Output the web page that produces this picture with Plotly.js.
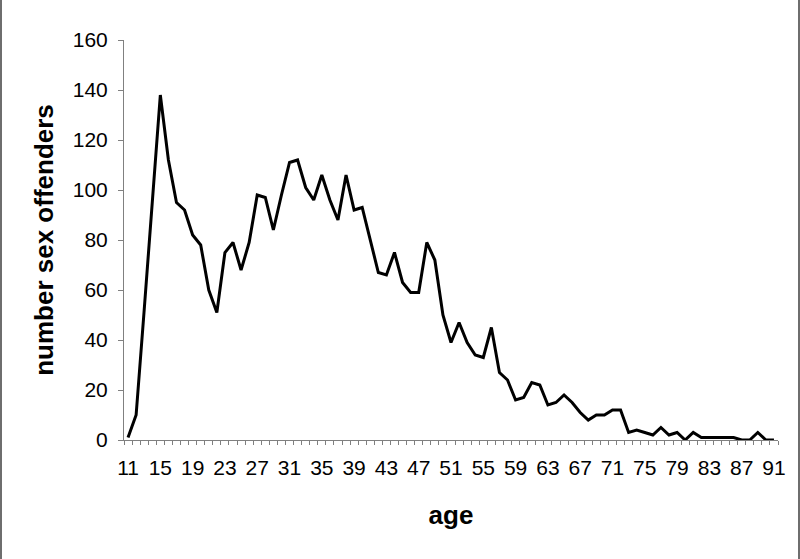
<!DOCTYPE html>
<html>
<head>
<meta charset="utf-8">
<script src="https://cdn.plot.ly/plotly-3.0.1.min.js"></script>
<style>
  html, body { margin: 0; padding: 0; background: #fff; }
  #wrap { position: relative; width: 800px; height: 559px; }
  #chart { width: 800px; height: 559px; }
  .edge { position: absolute; top: 0; width: 2px; height: 559px; background: #6e6e6e; }
</style>
</head>
<body>
<div id="wrap">
  <div id="chart"></div>
  <div class="edge" style="left:0"></div>
  <div class="edge" style="right:0"></div>
</div>
<script>
const ages = [11,12,13,14,15,16,17,18,19,20,
              21,22,23,24,25,26,27,28,29,30,
              31,32,33,34,35,36,37,38,39,40,
              41,42,43,44,45,46,47,48,49,50,
              51,52,53,54,55,56,57,58,59,60,
              61,62,63,64,65,66,67,68,69,70,
              71,72,73,74,75,76,77,78,79,80,
              81,82,83,84,85,86,87,88,89,90,
              91];
const offenders = [1,10,52,95,138,112,95,92,82,78,
                   60,51,75,79,68,79,98,97,84,98,
                   111,112,101,96,106,96,88,106,92,93,
                   80,67,66,75,63,59,59,79,72,50,
                   39,47,39,34,33,45,27,24,16,17,
                   23,22,14,15,18,15,11,8,10,10,
                   12,12,3,4,3,2,5,2,3,0,
                   3,1,1,1,1,1,0,0,3,0,
                   0];
const yTicks = [0,20,40,60,80,100,120,140,160];
const xLabelAges = [11,15,19,23,27,31,35,39,43,47,51,55,59,63,67,71,75,79,83,87,91];

const fontFam = '"Liberation Sans", Arial, Helvetica, sans-serif';

const trace = {
  x: ages,
  y: offenders,
  type: 'scatter',
  mode: 'lines',
  line: { color: '#000000', width: 3 },
  hoverinfo: 'skip'
};

const layout = {
  width: 800,
  height: 559,
  margin: { l: 124, r: 22, t: 40, b: 119 },
  paper_bgcolor: '#ffffff',
  plot_bgcolor: '#ffffff',
  showlegend: false,
  font: { family: fontFam, color: '#000000', size: 21 },
  xaxis: {
    range: [10.5, 91.5],
    tickmode: 'array',
    tickvals: xLabelAges,
    ticktext: xLabelAges.map(String),
    ticks: 'outside',
    ticklen: 4,
    tickcolor: 'rgba(0,0,0,0)',
    ticklabelstandoff: 5,
    minor: { ticks: 'outside', ticklen: 4, tick0: 10.5, dtick: 1, tickcolor: '#808080', tickwidth: 1, showgrid: false },
    showline: true,
    linecolor: '#808080',
    linewidth: 1,
    showgrid: false,
    zeroline: false,
    tickfont: { family: fontFam, size: 21, color: '#000' },
    title: { text: 'age', font: { family: fontFam, size: 26, color: '#000', weight: 'bold' }, standoff: 27 }
  },
  yaxis: {
    range: [0, 160],
    tickmode: 'array',
    tickvals: yTicks,
    ticktext: yTicks.map(String),
    ticks: 'outside',
    ticklen: 5,
    tickcolor: '#808080',
    tickwidth: 1,
    ticklabelstandoff: 6,
    showline: true,
    linecolor: '#808080',
    linewidth: 1,
    showgrid: false,
    zeroline: false,
    tickfont: { family: fontFam, size: 21, color: '#000' },
    title: { text: 'number sex offenders', font: { family: fontFam, size: 26, color: '#000', weight: 'bold' }, standoff: 11 }
  }
};

Plotly.newPlot('chart', [trace], layout, { staticPlot: true, displayModeBar: false });
</script>
</body>
</html>
